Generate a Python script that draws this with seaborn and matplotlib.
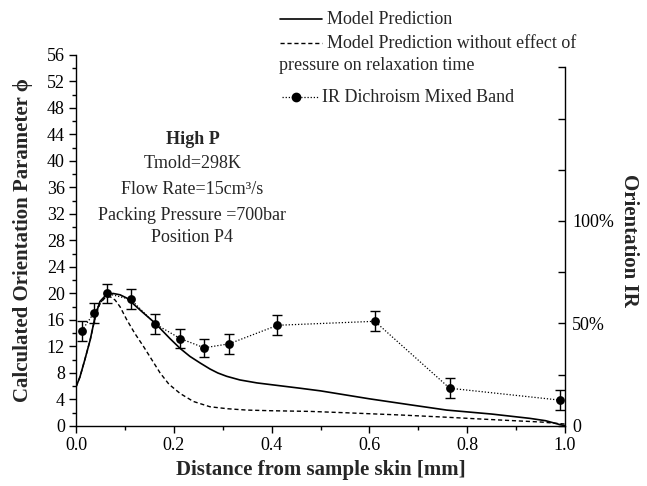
import matplotlib
matplotlib.use("Agg")
import matplotlib.pyplot as plt
import seaborn as sns
import numpy as np
import pandas as pd
from matplotlib.lines import Line2D
from matplotlib.ticker import MultipleLocator, FixedLocator, FuncFormatter

# ---------------- data ----------------
x_model = [0, 0.008, 0.018, 0.029, 0.039, 0.049, 0.063, 0.076, 0.09, 0.104, 0.131,
           0.162, 0.192, 0.213, 0.233, 0.254, 0.274, 0.29, 0.308, 0.335, 0.37, 0.403, 0.458,
           0.5, 0.55, 0.6, 0.683, 0.758, 0.85, 0.928, 0.96, 0.99, 1.0]
y_model = [5.9, 7.4, 10.0, 13.0, 16.5, 18.8, 19.9, 20.0, 19.8, 19.3, 17.5,
           15.5, 13.2, 11.7, 10.5, 9.5, 8.6, 8.0, 7.5, 6.95, 6.5, 6.2, 5.7,
           5.3, 4.7, 4.1, 3.2, 2.4, 1.8, 1.15, 0.8, 0.2, 0.05]

x_nop = [0, 0.008, 0.018, 0.029, 0.039, 0.049, 0.06, 0.07, 0.08, 0.09, 0.104,
         0.12, 0.138, 0.155, 0.172, 0.19, 0.213, 0.24, 0.274, 0.31, 0.349,
         0.4, 0.479, 0.55, 0.663, 0.75, 0.867, 0.95, 0.99, 1.0]
y_nop = [5.9, 7.4, 10.0, 13.0, 16.3, 18.5, 19.4, 19.5, 19.0, 18.0, 16.0,
         14.0, 12.0, 10.0, 8.0, 6.3, 4.9, 3.7, 2.9, 2.6, 2.4,
         2.3, 2.2, 2.0, 1.66, 1.35, 0.9, 0.6, 0.35, 0.3]

x_ir = [0.012, 0.036, 0.063, 0.112, 0.162, 0.213, 0.262, 0.313, 0.412, 0.611, 0.764, 0.99]
y_ir = [14.4, 17.0, 20.0, 19.1, 15.4, 13.2, 11.8, 12.4, 15.2, 15.8, 5.7, 3.9]
err_ir = [1.5, 1.5, 1.5, 1.5, 1.5, 1.5, 1.4, 1.5, 1.5, 1.5, 1.5, 1.5]

left_ticks = list(range(0, 57, 4))
x_ticks = [0.0, 0.2, 0.4, 0.6, 0.8, 1.0]
right_ticks = [0, 25, 50, 75, 100, 125, 150, 175]
right_labels = {0: "0", 50: "50%", 100: "100%"}

annot_lines = ["Tmold=298K", "Flow Rate=15cm\u00b3/s", "Packing Pressure =700bar", "Position P4"]

# ---------------- style ----------------
sns.set_theme(style="ticks")
plt.rcParams['font.family'] = ['Liberation Serif', 'DejaVu Serif']
plt.rcParams['axes.linewidth'] = 1.0

fig = plt.figure(figsize=(6.47, 4.86), dpi=100)
ax = fig.add_axes([0.1175, 0.1235, 0.7558, 0.7634])

df_m = pd.DataFrame({"x": x_model, "y": y_model})
df_n = pd.DataFrame({"x": x_nop, "y": y_nop})
df_ir = pd.DataFrame({"x": x_ir, "y": y_ir, "e": err_ir})

sns.lineplot(data=df_m, x="x", y="y", ax=ax, sort=False, color="black", lw=1.2, estimator=None)
sns.lineplot(data=df_n, x="x", y="y", ax=ax, sort=False, color="black", lw=1.0,
             estimator=None, linestyle=(0, (3, 2)))
sns.lineplot(data=df_ir, x="x", y="y", ax=ax, sort=False, color="black", lw=0.9,
             estimator=None, linestyle=(0, (1, 1.5)))
ax.errorbar(df_ir["x"], df_ir["y"], yerr=df_ir["e"], fmt="none", ecolor="black",
            elinewidth=1.0, capsize=3.5, capthick=1.0)
sns.scatterplot(data=df_ir, x="x", y="y", ax=ax, color="black", s=40, edgecolor="black",
                linewidth=0, zorder=5)

ax.set_xlim(0, 1.0)
ax.set_ylim(0, 56)
ax.set_xticks(x_ticks)
ax.set_xticklabels([f"{v:.1f}" for v in x_ticks])
ax.xaxis.set_minor_locator(MultipleLocator(0.1))
ax.set_yticks(left_ticks)
ax.yaxis.set_minor_locator(MultipleLocator(2))
ax.tick_params(axis="both", which="major", direction="out", length=5, width=1,
               labelsize=13, color="black", labelcolor="black", pad=3)
ax.tick_params(axis="both", which="minor", direction="out", length=3, width=1, color="black")
ax.spines['top'].set_visible(False)
ax.spines['right'].set_visible(False)
for s in ["left", "bottom"]:
    ax.spines[s].set_color("black")

ax.set_xlabel("Distance from sample skin [mm]", fontsize=15, fontweight="bold", labelpad=4)
ax.set_ylabel("Calculated Orientation Parameter \u03d5", fontsize=15, fontweight="bold", labelpad=10)

# right axis
ax2 = ax.twinx()
ax2.set_ylim(0, 181)
ax2.spines['right'].set_bounds(0, 175)
ax2.spines['right'].set_color("black")
for s in ["top", "left", "bottom"]:
    ax2.spines[s].set_visible(False)
ax2.yaxis.set_major_locator(FixedLocator(right_ticks))
ax2.yaxis.set_major_formatter(FuncFormatter(lambda v, p: right_labels.get(int(round(v)), "")))
ax2.tick_params(axis="y", which="major", direction="in", length=5, width=1, labelsize=13,
                color="black", labelcolor="black", pad=5)
ax2.set_ylabel("Orientation IR", fontsize=15, fontweight="bold", rotation=-90, labelpad=18)

# annotation
ax.text(0.238, 0.773, "High P", transform=ax.transAxes, ha="center", va="center",
        fontsize=13, fontweight="bold")
ys = [0.708, 0.638, 0.568, 0.508]
for t, yy in zip(annot_lines, ys):
    ax.text(0.238, yy, t, transform=ax.transAxes, ha="center", va="center", fontsize=13)

# legend (manual, figure coords)
W, H = 647.0, 486.0
def fx(px):
    return px / W
def fy(py):
    return 1 - py / H

fig.add_artist(Line2D([fx(280), fx(322)], [fy(19), fy(19)], color="black", lw=1.2))
fig.text(fx(327), fy(19), "Model Prediction", ha="left", va="center", fontsize=13)
fig.add_artist(Line2D([fx(280), fx(322)], [fy(43), fy(43)], color="black", lw=1.0,
                      linestyle=(0, (3, 2))))
fig.text(fx(327), fy(43), "Model Prediction without effect of", ha="left", va="center", fontsize=13)
fig.text(fx(279), fy(66), "pressure on relaxation time", ha="left", va="center", fontsize=13)
fig.add_artist(Line2D([fx(282), fx(318)], [fy(97), fy(97)], color="black", lw=0.9,
                      linestyle=(0, (1, 1.5))))
fig.add_artist(Line2D([fx(296)], [fy(97)], color="black", marker="o", markersize=6, lw=0))
fig.text(fx(322), fy(97), "IR Dichroism Mixed Band", ha="left", va="center", fontsize=13)

fig.savefig("out.png", dpi=100)
